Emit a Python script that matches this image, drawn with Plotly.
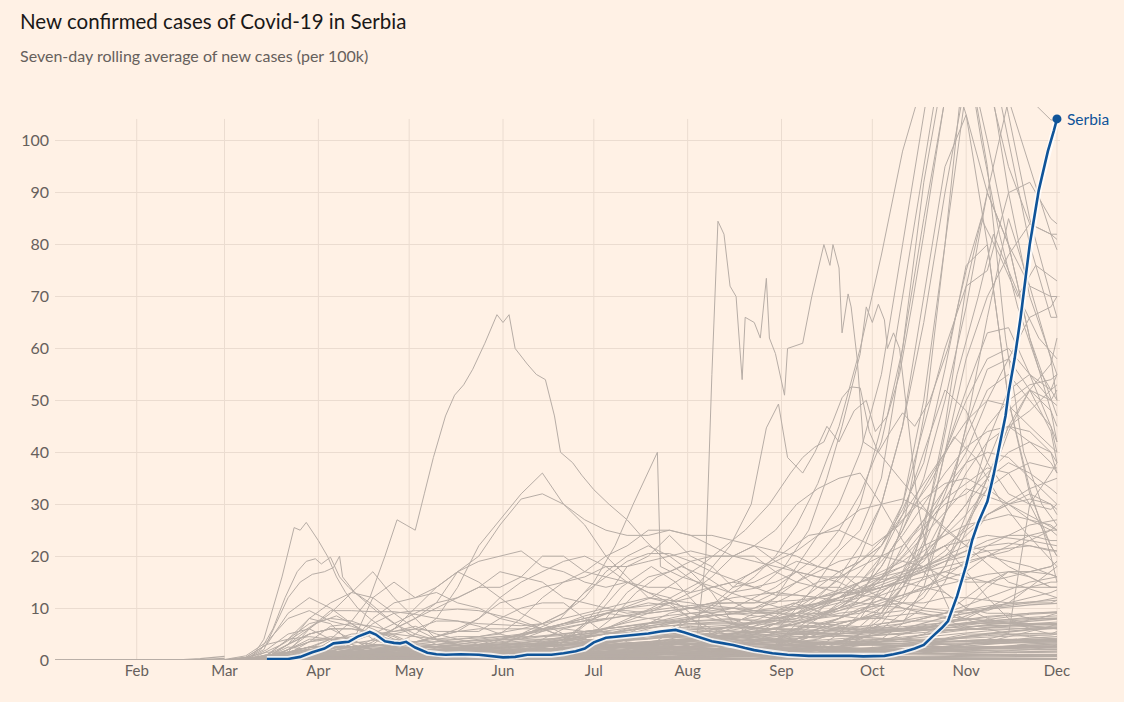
import plotly.graph_objects as go

YEAR = "2020-"
FONT = "Lato"
BG = "#fff1e5"
GRID = "#ebdcd0"
GREY = "#b7ada6"
BLUE = "#0f5499"
TEXT = "#66605c"

# ---------------- axis categories ----------------
month_ticks = ["02-01", "03-01", "04-01", "05-01", "06-01", "07-01", "08-01", "09-01", "10-01", "11-01", "12-01"]
month_labels = ["Feb", "Mar", "Apr", "May", "Jun", "Jul", "Aug", "Sep", "Oct", "Nov", "Dec"]
y_ticks = [0, 10, 20, 30, 40, 50, 60, 70, 80, 90, 100]

week_days = ["03-01", "03-08", "03-15", "03-22", "03-29", "04-05", "04-12", "04-19", "04-26", "05-03",
             "05-10", "05-17", "05-24", "05-31", "06-07", "06-14", "06-21", "06-28", "07-05", "07-12",
             "07-19", "07-26", "08-02", "08-09", "08-16", "08-23", "08-30", "09-06", "09-13", "09-20",
             "09-27", "10-04", "10-11", "10-18", "10-25", "11-01", "11-08", "11-15", "11-22", "11-29", "12-01"]
biweek_days = ["03-01", "03-15", "03-29", "04-12", "04-26", "05-10", "05-24", "06-07", "06-21", "07-05",
               "07-19", "08-02", "08-16", "08-30", "09-13", "09-27", "10-11", "10-25", "11-08", "11-22", "12-01"]
early_days = ["01-05", "01-22", "02-01", "02-15", "02-22", "03-01"]

# ---------------- Serbia ----------------
serbia = [("03-15", 0.2), ("03-18", 0.2), ("03-22", 0.2), ("03-26", 0.6), ("03-30", 1.5), ("04-03", 2.2),
          ("04-06", 3.2), ("04-09", 3.4), ("04-11", 3.5), ("04-14", 4.5), ("04-18", 5.4), ("04-20", 4.9),
          ("04-23", 3.6), ("04-26", 3.3), ("04-28", 3.2), ("04-30", 3.5), ("05-03", 2.4), ("05-07", 1.4),
          ("05-10", 1.1), ("05-13", 1.0), ("05-18", 1.1), ("05-24", 1.0), ("05-28", 0.8), ("06-01", 0.5),
          ("06-05", 0.6), ("06-09", 1.0), ("06-13", 1.0), ("06-17", 1.0), ("06-21", 1.3), ("06-25", 1.7),
          ("06-28", 2.2), ("07-01", 3.4), ("07-05", 4.3), ("07-09", 4.5), ("07-13", 4.7), ("07-19", 5.1),
          ("07-23", 5.5), ("07-28", 5.8), ("07-31", 5.3), ("08-05", 4.3), ("08-09", 3.6), ("08-12", 3.3),
          ("08-16", 2.9), ("08-20", 2.3), ("08-23", 1.9), ("08-29", 1.3), ("09-03", 1.0), ("09-10", 0.8),
          ("09-16", 0.8), ("09-20", 0.9), ("09-24", 0.8), ("09-28", 0.7), ("10-02", 0.7), ("10-05", 0.8),
          ("10-08", 1.1), ("10-11", 1.5), ("10-15", 2.2), ("10-18", 2.9), ("10-21", 4.6), ("10-24", 6.2),
          ("10-26", 7.5), ("10-29", 12.3), ("11-01", 18.2), ("11-03", 23.1), ("11-05", 26.5), ("11-08", 30.5),
          ("11-10", 35.5), ("11-12", 41), ("11-14", 47), ("11-15", 51.4), ("11-17", 58), ("11-19", 66),
          ("11-21", 75), ("11-22", 80), ("11-24", 87), ("11-25", 90.5), ("11-27", 95.5), ("11-28", 98),
          ("11-30", 102), ("12-01", 104.2)]

# ---------------- other countries: irregular dates ----------------
spring_peak_a = [("03-01", 0), ("03-10", 0.5), ("03-14", 4), ("03-17", 10), ("03-20", 16), ("03-24", 25.5),
                 ("03-26", 25), ("03-28", 26.5), ("04-01", 23), ("04-04", 20), ("04-07", 16), ("04-10", 13),
                 ("04-14", 10), ("04-18", 8), ("04-25", 5), ("05-05", 2.5), ("05-20", 1.5), ("06-05", 1.5),
                 ("06-20", 3), ("07-01", 8), ("07-10", 14), ("07-20", 18), ("07-28", 15), ("08-05", 10),
                 ("08-15", 7), ("08-25", 6), ("09-05", 6), ("09-15", 7), ("09-25", 9), ("10-05", 12),
                 ("10-15", 20), ("10-22", 35), ("10-29", 55), ("11-05", 70), ("11-10", 82), ("11-15", 75),
                 ("11-20", 68), ("11-25", 62), ("12-01", 58)]
spring_peak_b = [("03-08", 0.2), ("03-13", 2), ("03-17", 6), ("03-21", 12), ("03-25", 17), ("03-28", 19),
                 ("03-31", 19.5), ("04-02", 18.5), ("04-05", 19.8), ("04-08", 16), ("04-11", 14), ("04-15", 12),
                 ("04-20", 9.5), ("04-26", 7), ("05-03", 5), ("05-12", 3.5), ("05-25", 2), ("06-10", 1),
                 ("06-25", 0.8), ("07-10", 1.2), ("07-25", 2.5), ("08-10", 5), ("08-25", 8), ("09-05", 11),
                 ("09-15", 9), ("09-25", 11), ("10-05", 16), ("10-12", 28), ("10-19", 50), ("10-25", 80),
                 ("10-30", 108), ("11-03", 112), ("11-08", 95), ("11-14", 62), ("11-20", 40), ("11-26", 30),
                 ("12-01", 26)]
spring_peak_c = [("03-08", 0.2), ("03-14", 2), ("03-18", 7), ("03-22", 12), ("03-26", 15), ("03-30", 16.5),
                 ("04-03", 17), ("04-06", 17.8), ("04-08", 20), ("04-09", 16), ("04-13", 13), ("04-18", 11),
                 ("04-24", 8), ("05-01", 5), ("05-10", 3), ("05-20", 1.8), ("06-05", 0.8), ("06-25", 0.6),
                 ("07-10", 1.2), ("07-20", 3), ("07-31", 7), ("08-10", 11), ("08-20", 16), ("08-31", 20),
                 ("09-10", 24), ("09-20", 25), ("10-01", 22), ("10-10", 26), ("10-20", 34), ("10-28", 43),
                 ("11-04", 39), ("11-12", 31), ("11-20", 25), ("12-01", 18)]
june_peak = [("03-01", 0), ("03-12", 0.5), ("03-20", 1), ("03-28", 2), ("04-05", 4), ("04-12", 7.5),
             ("04-18", 12), ("04-23", 20), ("04-27", 27), ("04-30", 26), ("05-03", 25), ("05-06", 32),
             ("05-09", 39), ("05-13", 47), ("05-16", 51), ("05-19", 53), ("05-22", 56), ("05-26", 61),
             ("05-30", 66.5), ("06-01", 65), ("06-03", 66.5), ("06-05", 60), ("06-09", 57), ("06-12", 55),
             ("06-15", 54), ("06-18", 47), ("06-20", 40), ("06-24", 38), ("06-27", 35.6), ("07-01", 32.8),
             ("07-06", 30), ("07-12", 27), ("07-18", 23), ("07-25", 19), ("08-01", 16), ("08-10", 13),
             ("08-20", 10), ("09-01", 8), ("09-15", 7), ("10-01", 8), ("10-15", 9), ("11-01", 8),
             ("11-15", 7), ("12-01", 6)]
august_spike = [("03-10", 0), ("03-25", 0.5), ("04-10", 1), ("05-01", 1.5), ("06-01", 1.5), ("07-01", 2),
                ("07-20", 3), ("08-04", 4), ("08-07", 20), ("08-09", 55), ("08-11", 84.5), ("08-13", 82),
                ("08-15", 72), ("08-17", 70), ("08-19", 54), ("08-20", 66), ("08-23", 65), ("08-25", 62),
                ("08-27", 73.5), ("08-28", 62), ("08-30", 59), ("09-02", 51), ("09-03", 60), ("09-08", 61),
                ("09-11", 70), ("09-15", 80), ("09-17", 76), ("09-18", 80), ("09-20", 75.5), ("09-21", 63),
                ("09-23", 70.5), ("09-24", 68), ("09-26", 58), ("09-28", 42), ("10-03", 40), ("10-10", 35),
                ("10-20", 28), ("11-01", 22), ("11-15", 15), ("12-01", 12)]
autumn_plateau = [("03-10", 0.3), ("03-20", 3), ("03-31", 7), ("04-07", 8.5), ("04-15", 6), ("04-25", 3),
                  ("05-10", 1), ("05-25", 0.3), ("06-05", 0.6), ("06-15", 1.5), ("06-28", 4), ("07-07", 8),
                  ("07-15", 13), ("07-22", 16), ("07-30", 18), ("08-07", 16), ("08-15", 13), ("08-25", 14),
                  ("09-02", 18), ("09-10", 25), ("09-16", 35), ("09-21", 45), ("09-24", 52), ("09-27", 59),
                  ("09-29", 68), ("10-01", 65), ("10-03", 68.5), ("10-05", 65.5), ("10-06", 60), ("10-08", 63),
                  ("10-10", 60), ("10-13", 45), ("10-16", 30), ("10-20", 18), ("10-27", 9), ("11-05", 7),
                  ("11-15", 7), ("11-25", 8), ("12-01", 9)]
september_wave = [("04-01", 0.5), ("05-01", 1), ("06-01", 2), ("07-01", 5), ("07-20", 10), ("08-05", 15),
                  ("08-15", 22), ("08-22", 30), ("08-27", 44.7), ("08-31", 49.3), ("09-03", 39), ("09-08", 36),
                  ("09-12", 40), ("09-16", 45), ("09-20", 42), ("09-25", 48), ("09-29", 50), ("10-02", 44),
                  ("10-06", 47), ("10-10", 55), ("10-14", 68), ("10-18", 82), ("10-22", 97), ("10-26", 112),
                  ("11-01", 118), ("11-06", 100), ("11-12", 82), ("11-18", 68), ("11-25", 56), ("12-01", 50)]
july_spike = [("04-01", 0.3), ("05-01", 1), ("06-01", 3), ("06-20", 8), ("07-01", 15), ("07-08", 22),
              ("07-14", 30), ("07-18", 35), ("07-22", 40), ("07-23", 18), ("07-30", 16), ("08-10", 14),
              ("08-20", 12), ("09-01", 10), ("09-15", 11), ("10-01", 14), ("10-15", 22), ("11-01", 33),
              ("11-15", 30), ("12-01", 25)]
late_september = [("04-01", 0.5), ("05-01", 2), ("06-01", 4), ("07-01", 8), ("07-20", 12), ("08-05", 18),
                  ("08-20", 25), ("08-28", 30), ("09-04", 36), ("09-08", 39), ("09-12", 41), ("09-15", 42),
                  ("09-18", 46), ("09-21", 50.5), ("09-24", 52.6), ("09-27", 52.4), ("09-30", 44), ("10-03", 40),
                  ("10-07", 44), ("10-11", 47.6), ("10-15", 45), ("10-20", 50), ("10-26", 60), ("11-01", 75),
                  ("11-06", 85), ("11-12", 78), ("11-18", 70), ("11-24", 76), ("12-01", 73)]

# ---------------- other countries: weekly values (week_days) ----------------
europe_weekly = [
    [0, 0, 0.3, 1.5, 2.5, 2.8, 2.2, 1.6, 1.0, 0.7, 0.6, 0.5, 0.5, 0.7, 0.9, 1.1, 1.0, 1.6, 1.3, 1.4,
     1.8, 2.5, 2.4, 2.2, 2.6, 3.5, 5.5, 10, 15, 21, 25, 35, 60, 92, 115, 118, 100, 80, 62, 48, 42],
    [0, 0.5, 3, 9, 12, 10, 7, 4, 2.5, 1.5, 0.8, 0.5, 0.3, 0.2, 0.3, 0.3, 0.4, 0.7, 0.9, 1.2,
     1.5, 1.5, 1.6, 2.0, 3.0, 3.5, 4.0, 4.5, 4.2, 5.0, 6.5, 10, 15, 25, 45, 72, 90, 80, 62, 50, 47],
    [0, 0, 1, 3, 5, 6, 6, 5.5, 4.5, 2.5, 1.5, 1.2, 1.0, 0.8, 0.9, 1.0, 0.8, 0.6, 0.6, 0.8,
     1.2, 2.0, 3.0, 3.8, 3.9, 3.6, 4.0, 5.5, 8, 11, 15, 20, 28, 40, 52, 48, 38, 32, 30, 29, 30],
    [0, 0.1, 0.8, 4, 7, 8, 7.5, 6, 4, 2.8, 1.4, 1.0, 0.7, 0.6, 0.8, 0.9, 0.8, 0.9, 0.8, 0.9,
     1.2, 1.5, 2.3, 3.5, 5, 6.5, 8.5, 11, 14, 17, 19, 22, 29, 38, 56, 76, 80, 50, 33, 20, 15],
    [0, 0, 2, 5, 6, 4, 2.5, 1.2, 0.6, 0.4, 0.3, 0.3, 0.4, 0.4, 0.4, 0.5, 0.5, 0.6, 0.8, 1.0,
     1.1, 1.2, 1.2, 1.4, 1.7, 2, 3, 4, 5.5, 7, 8, 8.5, 11, 16, 28, 45, 66, 85, 72, 58, 50],
    [0.1, 0.8, 3.5, 8, 9.5, 7.5, 6.5, 5, 3.8, 2.5, 1.6, 1.2, 0.9, 0.7, 0.5, 0.4, 0.4, 0.3, 0.3, 0.3,
     0.4, 0.4, 0.5, 0.6, 0.9, 1.4, 2, 2.3, 2.3, 2.5, 3, 4, 7, 14, 28, 45, 56, 58, 52, 44, 38],
    [0, 0, 0.3, 1.2, 3.5, 6.5, 7, 6.5, 5.5, 6.5, 5, 4, 3, 2.2, 1.6, 1.4, 1.2, 1.0, 0.9, 0.9,
     1.0, 1.1, 1.2, 1.5, 1.6, 1.8, 2.2, 3.6, 5, 6, 8, 14, 22, 27, 31, 34, 37, 36, 30, 22, 20],
    [0, 0, 0.1, 0.3, 0.7, 1, 0.9, 0.8, 0.8, 0.8, 0.7, 0.7, 0.8, 0.8, 1.0, 1.0, 0.8, 0.8, 0.8, 0.8,
     0.9, 1.2, 1.5, 1.8, 1.8, 1.7, 1.6, 1.5, 2.0, 3.2, 5, 8, 14, 23, 40, 52, 63, 64, 55, 45, 40],
    [0, 0, 0.1, 0.4, 0.6, 0.8, 0.9, 1, 0.8, 0.5, 0.4, 0.3, 0.2, 0.2, 0.1, 0.1, 0.1, 0.1, 0.1, 0.2,
     0.2, 0.2, 0.3, 0.3, 0.7, 1.5, 3, 7, 8, 9, 9.5, 9, 9.5, 12, 18, 28, 42, 52, 55, 50, 52],
    [0, 0, 0.5, 2.5, 2.0, 1.8, 1.3, 0.8, 0.5, 0.2, 0.1, 0.1, 0.1, 0.1, 0.2, 0.5, 1.2, 2.5, 2.2, 1.5,
     1.2, 1.0, 1.2, 1.5, 2.0, 2.5, 2.0, 1.8, 2.5, 3.5, 5, 7, 12, 22, 40, 58, 70, 78, 84, 82, 81],
    [0, 0, 0, 2, 5, 6, 4, 2, 0.8, 0.2, 0, 0, 0, 0, 0.1, 1, 3.5, 7, 12, 18,
     20, 24, 20, 18, 14, 15, 17, 19, 18, 17, 19, 22, 30, 45, 60, 72, 75, 90, 92, 85, 84],
    [0, 0, 0, 0.1, 0.3, 0.4, 0.5, 0.5, 0.5, 0.3, 0.2, 0.1, 0.1, 0.1, 0.1, 0.1, 0.1, 0.1, 0.1, 0.1,
     0.1, 0.1, 0.1, 0.1, 0.1, 0.2, 0.5, 1, 1.5, 2.5, 5, 9, 17, 25, 33, 40, 50, 58, 66, 68, 70],
    [0, 0, 0.2, 0.8, 1.5, 1.7, 1.6, 1.8, 2.5, 3.3, 4.5, 5.5, 8, 12, 15, 17, 19, 20, 18, 15,
     13, 12, 9, 8, 7, 6, 7, 7.5, 8.5, 10, 13, 18, 25, 33, 40, 50, 58, 60, 55, 52, 53],
    [0, 0, 0.3, 1.5, 2.5, 2.5, 2, 1.6, 1.3, 0.9, 0.6, 0.5, 0.6, 0.9, 1.5, 2.5, 4, 7, 9, 10,
     11, 10.5, 8, 6, 4.5, 4, 4.5, 5, 6, 7, 8, 10, 14, 20, 28, 36, 42, 45, 44, 40, 36],
    [0, 0, 0.5, 3, 5, 6, 6, 5, 3.5, 2.5, 2.5, 2.3, 2.5, 2.7, 3.0, 3.2, 3.4, 3.2, 3.0, 2.8,
     2.4, 2.0, 1.8, 1.5, 1.4, 2, 2.5, 4, 6, 7, 8, 9, 14, 22, 32, 43, 52, 55, 50, 45, 42],
    [0, 0.1, 0.8, 1.5, 2.5, 4, 4.5, 5, 5.5, 6, 5.5, 5.5, 5.5, 8, 10, 11, 11, 8, 5, 3.5,
     3, 2.5, 2.5, 2.5, 2.8, 2, 2.5, 2.5, 3, 3.5, 5, 7, 7.5, 10, 15, 25, 35, 45, 48, 52, 55],
    [0, 0.5, 3, 4, 4.5, 4, 3.5, 3, 2.5, 1.5, 1, 0.8, 0.6, 0.5, 0.4, 0.3, 0.4, 0.5, 0.6, 0.6,
     0.8, 1, 1.5, 2, 1.8, 2, 2.5, 3.5, 5, 6.5, 5.5, 6, 7, 8, 9, 12, 15, 17, 17, 18, 19],
    [0, 0, 0.5, 3, 6, 9, 13, 17, 12, 8, 4, 3, 1.5, 1, 0.6, 0.4, 0.3, 0.2, 0.3, 0.4,
     0.5, 0.5, 1.0, 1.5, 1.5, 1.7, 2.5, 3.5, 4, 5.5, 8, 9, 14, 20, 22, 17, 12, 8, 6, 5, 5.5],
    [0, 0, 0.1, 0.5, 1.5, 2.5, 3.2, 3.8, 4.0, 3.5, 3.5, 3.6, 3.8, 3.8, 4.0, 5.5, 7.0, 8.5, 9.5, 9.5,
     9, 9.5, 10, 10.5, 10, 10, 11, 13, 15, 16, 18, 20, 22, 26, 30, 32, 36, 40, 42, 40, 38],
    [0, 0, 0, 0.1, 0.2, 0.5, 1.2, 2.0, 2.8, 3.5, 4.5, 5.5, 6, 6, 6, 6, 6, 5.5, 5.5, 5,
     4.5, 4.5, 4.5, 4.5, 4.8, 5, 5.5, 6, 6.5, 8, 9.5, 11, 12.5, 14, 15.5, 17, 20, 22, 24, 25, 26],
    [0, 0, 0, 0.1, 0.4, 1.5, 3.5, 7, 9, 9.5, 9.5, 9.8, 9.5, 8.5, 7.5, 6, 4.5, 3.5, 2.8, 2.2,
     1.8, 1.6, 1.5, 1.5, 1.5, 1.5, 1.6, 1.6, 1.8, 2.2, 2.8, 3.5, 5, 6, 7, 8.5, 10, 11, 12, 13, 13.5],
    [0, 0, 0.2, 0.5, 0.7, 0.6, 0.5, 0.4, 0.3, 0.2, 0.1, 0.1, 0.1, 0.1, 0.1, 0.2, 0.2, 0.3, 0.3, 0.3,
     0.4, 0.5, 1.0, 1.6, 2.0, 2.2, 2.3, 2.5, 3, 3.5, 3.5, 3.5, 4, 5, 7, 10, 14, 17, 16, 14, 14],
    [0, 0, 0.4, 1.3, 1.7, 1.6, 1.5, 1.3, 1.0, 0.7, 0.5, 0.4, 0.3, 0.3, 0.3, 0.2, 0.2, 0.2, 0.3, 0.3,
     0.3, 0.4, 0.5, 0.7, 0.8, 1.0, 1.0, 1.3, 1.8, 2.5, 4, 6, 9, 13, 18, 26, 35, 45, 52, 57, 62],
    [0, 0, 0.5, 3, 8, 11, 13, 12, 9, 6, 4, 3, 2.2, 1.6, 1.0, 0.8, 0.8, 0.9, 0.9, 1.2,
     2, 4, 5, 5, 4, 3.5, 4, 6, 9, 14, 20, 30, 45, 70, 95, 105, 80, 50, 32, 22, 20],
]
autumn_mid_weekly = [
    [0, 0, 0.2, 0.8, 1.2, 1.5, 1.8, 2.0, 2.2, 2.0, 1.8, 1.6, 1.5, 1.6, 1.8, 2.0, 2.3, 2.6, 3.0, 3.3,
     3.5, 3.8, 4.2, 4.6, 5.0, 5.5, 6.2, 7.0, 8.0, 9.5, 11, 13, 16, 20, 25, 30, 35, 38, 36, 33, 32],
    [0, 0, 0, 0.3, 0.8, 1.2, 1.5, 1.6, 1.4, 1.2, 1.0, 0.9, 0.9, 1.0, 1.2, 1.5, 2.0, 2.6, 3.2, 3.8,
     4.2, 4.6, 4.8, 5.2, 5.8, 6.5, 7.5, 9, 11, 13, 15, 17, 19, 22, 24, 26, 27, 28, 27, 26, 25],
    [0, 0, 0.1, 0.4, 0.9, 1.4, 2.0, 2.6, 3.0, 3.1, 3.0, 2.8, 2.5, 2.3, 2.2, 2.4, 2.8, 3.4, 4.2, 5.0,
     5.6, 6.0, 6.3, 6.5, 6.7, 7.0, 7.8, 9.0, 10.5, 12, 14, 16, 18, 21, 24, 28, 33, 36, 38, 37, 37],
    [0, 0, 0.3, 1.0, 1.8, 2.4, 2.5, 2.3, 1.9, 1.4, 1.0, 0.8, 0.7, 0.7, 0.8, 0.9, 1.1, 1.3, 1.5, 1.7,
     2.0, 2.4, 2.9, 3.5, 4.2, 5.0, 6.0, 7.5, 9.5, 12, 15, 19, 24, 30, 36, 41, 44, 45, 42, 38, 36],
    [0, 0, 0, 0.1, 0.3, 0.6, 1.0, 1.4, 1.8, 2.2, 2.6, 3.0, 3.4, 3.8, 4.2, 4.6, 5.0, 5.5, 6.0, 6.6,
     7.2, 7.8, 8.3, 8.6, 8.8, 9.0, 9.3, 9.8, 10.5, 11.5, 12.5, 14, 15.5, 17, 19, 21, 23, 24, 24, 23, 23],
    [0, 0, 0.1, 0.6, 1.5, 2.2, 2.6, 2.8, 2.6, 2.1, 1.6, 1.2, 0.9, 0.7, 0.6, 0.6, 0.7, 0.9, 1.2, 1.6,
     2.1, 2.8, 3.6, 4.4, 5.2, 6.0, 7.0, 8.5, 10.5, 13, 17, 22, 28, 34, 40, 46, 50, 49, 45, 41, 40],
    [0, 0, 0, 0.1, 0.2, 0.4, 0.6, 0.8, 1.0, 1.2, 1.4, 1.7, 2.0, 2.4, 2.8, 3.3, 3.9, 4.5, 5.2, 5.8,
     6.3, 6.6, 6.8, 6.9, 7.0, 7.2, 7.5, 8.0, 8.7, 9.5, 10.5, 11.5, 12.5, 13.5, 14.5, 15.5, 16.5, 17, 17, 16.5, 16],
    [0, 0, 0.5, 2.0, 3.5, 4.0, 3.6, 3.0, 2.3, 1.6, 1.1, 0.8, 0.6, 0.5, 0.5, 0.6, 0.8, 1.1, 1.5, 2.0,
     2.6, 3.3, 4.0, 4.6, 5.1, 5.6, 6.2, 7.0, 8.2, 10, 12.5, 16, 21, 27, 33, 38, 40, 39, 35, 31, 30],
    [0, 0, 0, 0.2, 0.5, 0.9, 1.3, 1.7, 2.1, 2.5, 2.9, 3.3, 3.7, 4.2, 4.8, 5.5, 6.2, 7.0, 7.8, 8.6,
     9.4, 10, 10.5, 10.8, 11, 11, 11.2, 11.5, 12, 12.8, 13.8, 15, 16.5, 18, 19.5, 21, 22, 22.5, 22, 21, 21],
    [0, 0, 0.2, 0.7, 1.1, 1.2, 1.1, 1.0, 0.9, 0.8, 0.7, 0.7, 0.8, 1.0, 1.3, 1.7, 2.2, 2.8, 3.4, 4.0,
     4.6, 5.0, 5.4, 5.8, 6.3, 7.0, 8.2, 10, 12.5, 15.5, 19, 23, 27, 31, 34, 35, 33, 30, 27, 25, 24],
    [0, 0, 0, 0.1, 0.2, 0.3, 0.4, 0.5, 0.6, 0.8, 1.0, 1.3, 1.7, 2.2, 2.8, 3.5, 4.3, 5.2, 6.2, 7.2,
     8.0, 8.6, 9.0, 9.2, 9.3, 9.4, 9.6, 10, 10.8, 12, 13.5, 15, 17, 19.5, 22, 25, 28, 30, 31, 30, 29],
    [0, 0, 0.1, 0.3, 0.6, 0.8, 0.9, 0.9, 0.8, 0.7, 0.6, 0.5, 0.5, 0.5, 0.6, 0.7, 0.9, 1.2, 1.6, 2.1,
     2.7, 3.3, 3.9, 4.4, 4.8, 5.3, 6.0, 7.0, 8.5, 10.5, 13, 16, 20, 25, 31, 38, 45, 50, 53, 54, 55],
]
americas_weekly = [
    [0, 0, 0.2, 1.5, 6, 9.5, 9.5, 9.3, 9.3, 8.8, 8, 7.5, 7, 6.8, 6.6, 7, 9, 13, 16, 19,
     20.5, 20.5, 19, 17, 15.5, 14, 12.5, 12.5, 12, 13, 13, 14, 15.5, 18, 21, 26, 33, 44, 52, 50, 49],
    [0, 0, 0, 0.1, 0.3, 0.6, 0.9, 1.5, 2.5, 3.5, 4.5, 6, 8, 11, 12, 14, 15, 16, 18, 18,
     19, 20, 21, 20, 20, 19, 18, 17, 14, 14, 12.5, 12, 11, 10, 9.5, 9, 9.5, 11, 14, 17, 18],
    [0, 0, 0.2, 1, 2, 2.5, 2.6, 2.7, 3, 5, 8, 14, 22, 27, 32, 36, 30, 26, 20, 16,
     12, 11, 10, 10, 10, 9, 9, 9, 9, 8.5, 8, 8, 7.5, 7.5, 7.5, 8, 7.5, 7.5, 7, 7, 7],
    [0, 0, 0, 0.2, 1, 2, 3.5, 5, 7, 9, 11, 12, 14, 17, 16, 15, 12, 11, 10, 9,
     9.5, 11, 13, 16, 20, 22, 21, 20, 18, 17, 14, 12, 10, 9, 8, 6, 6, 5, 5, 5, 5],
    [0, 0, 0.1, 2, 3.5, 4.5, 4, 5, 5, 4.5, 4, 4.5, 4.5, 5, 8, 12, 15, 17, 20, 22,
     25, 25, 24, 24, 23, 22, 19, 17, 16, 16, 16, 15.5, 16, 17, 18, 19, 20, 21, 23, 25, 25],
    [0, 0, 0, 0.1, 0.2, 0.2, 0.2, 0.3, 0.3, 0.4, 0.5, 0.7, 0.9, 1.2, 1.7, 2.4, 3.5, 5, 6, 7.5,
     9, 11, 12, 14, 15, 17, 19, 21, 24, 26, 29, 30, 31, 29, 25, 22, 21, 18, 16, 14, 14],
    [0, 0, 0, 0.1, 0.2, 0.3, 0.3, 0.5, 0.7, 0.9, 1.2, 1.4, 1.8, 2.5, 3.3, 4, 6, 7, 8, 13,
     16, 17, 19, 20, 20, 20, 17, 15, 14, 13, 13, 14, 15, 16, 17, 16, 15, 16, 17, 18, 19],
    [0, 0, 0, 0.1, 0.3, 1.5, 2, 3, 3, 3.5, 4, 4, 4.2, 4.5, 4.5, 4.5, 4.7, 5, 5.3, 5,
     5, 5, 4.8, 4.5, 4.5, 4, 3.8, 3.5, 3.4, 3.5, 3.6, 3.5, 3.5, 3.8, 4, 4.3, 4.5, 4.6, 4.7, 4.8, 5],
    [0, 0, 0, 0.1, 0.2, 0.2, 0.2, 0.1, 0.1, 0.1, 0.1, 0.1, 0.2, 0.3, 0.5, 0.8, 1.3, 2, 3.5, 5,
     7, 9, 10, 11, 11, 11, 13, 15, 17, 19, 20, 20, 19, 18, 16, 15, 15, 14, 14, 14, 14],
    [0, 0, 0, 0.1, 0.2, 0.4, 0.5, 0.7, 1, 1.2, 1.6, 2, 2.5, 3, 4.5, 6, 7, 8, 9, 10,
     10.5, 11, 10, 9, 8, 6, 5, 3.5, 2.5, 2, 2, 1.5, 1.3, 1.2, 1.2, 1.3, 1.5, 1.8, 2, 2.5, 3],
    [0, 0, 0, 0.5, 0.6, 0.6, 0.6, 0.6, 0.8, 1, 1.3, 1.8, 2.5, 3.8, 5, 7, 9, 12, 17, 20,
     22, 20, 17, 13, 7, 4.5, 3.5, 2.5, 2.5, 2.2, 2.0, 2.3, 2.8, 3.0, 2.5, 3, 3.5, 4.5, 5.5, 6.5, 7],
]
asia_weekly = [
    [0, 0.5, 1.5, 1.5, 2, 2.5, 3.5, 8, 11, 12, 14, 17, 20, 26, 31, 32, 30, 27, 25, 24,
     24, 25, 24, 22, 20, 22, 25, 30, 33, 35, 36, 30, 23, 17, 13, 10, 9, 9, 8, 8, 8],
    [0, 0, 0.2, 0.7, 0.8, 1, 1.8, 3.5, 6, 8, 11, 17, 19, 20, 21, 18, 17, 15, 14, 15,
     14, 14, 13, 14, 15, 14, 15, 17, 16, 15, 13, 14, 15, 14, 13, 10, 8, 7, 6.5, 6, 6],
    [0, 0, 0, 0.1, 0.5, 1, 2, 4, 6, 8, 10, 12, 14, 14, 16, 20, 20, 17, 16, 15,
     13, 11, 8, 5, 4, 3, 3, 3, 3.5, 3.8, 4, 4, 4, 4, 4.2, 5, 5, 5, 4.5, 4, 4],
    [0, 0, 0.1, 0.3, 1.3, 3, 4.2, 5, 5, 6, 7.5, 7.5, 6.5, 5, 4, 4, 4, 4, 3.5, 3,
     3, 3, 3, 3, 3.2, 3.5, 4, 5, 7, 8, 10, 10.5, 11, 11, 12, 12, 11.5, 11, 11, 11, 11.5],
    [0, 0, 0.1, 0.2, 0.3, 0.3, 0.2, 0.1, 0.1, 0.1, 0.1, 0.1, 0.1, 0.1, 0.1, 0.1, 0.2, 0.3, 0.2, 0.4,
     0.8, 1.5, 3, 4, 5, 6, 7, 8, 10, 12, 15, 16, 17, 18, 20, 22, 28, 30, 32, 30, 28],
    [0, 0, 0, 0.1, 0.1, 0.1, 0.1, 0, 0, 0, 0, 0, 0, 0, 0, 0, 0, 0, 0, 0.1,
     0.1, 0.1, 0.1, 0.1, 0.1, 0.3, 0.8, 1.5, 2.5, 5, 9, 13, 16, 19, 25, 30, 38, 48, 52, 48, 45],
    [0, 0.2, 1, 1.5, 2, 2.7, 2.3, 1.7, 1.2, 1.3, 1.7, 2, 2.4, 3, 3, 3, 3, 3, 3, 3,
     2.9, 3, 2.9, 2.8, 2.6, 2.6, 2.8, 3, 3, 3.5, 4.5, 5, 5, 6, 7.5, 8, 10, 12, 14, 15, 15],
    [0, 0, 0, 0.2, 1.2, 3.7, 5, 5.2, 3.5, 2.5, 1.6, 1.4, 1.3, 1.2, 1.0, 1.4, 1.2, 1.4, 1.5, 1.6,
     1.2, 1.1, 1.1, 1.4, 1.5, 1.7, 2.0, 2.1, 2.0, 2.1, 2.0, 2.0, 2.2, 2.5, 2.5, 3, 4, 5, 30, 36, 38],
    [0, 0.1, 0.3, 0.6, 0.9, 1.5, 3, 12, 15, 12, 13, 11, 10, 8, 7, 6, 4.5, 3.5, 3, 3,
     2.5, 2.3, 2, 1.6, 1.2, 0.8, 0.5, 0.3, 0.2, 0.1, 0.1, 0.1, 0.1, 0.1, 0.1, 0.1, 0.1, 0.1, 0.1, 0.1, 0.1],
    [0, 0, 0, 0.1, 0.2, 0.4, 1, 3, 6, 10, 14, 17, 15, 12, 9, 7, 5, 4, 3.5, 4,
     5, 6, 6.5, 6, 5.5, 5, 4, 3.5, 3, 3, 3.5, 4, 4, 3.5, 3, 2.5, 2.5, 2.5, 2.5, 2.5, 2.5],
]
autumn_high_weekly = [
    [0, 0, 0.5, 2, 4, 4, 3, 2, 1.5, 1, 0.5, 0.3, 0.3, 0.5, 0.8, 1, 1.2, 1.5, 2, 2.5,
     3, 3.5, 4, 5, 7, 9, 12, 18, 24, 30, 40, 55, 80, 105, 130, 140, 115, 90, 70, 58, 55],
    [0, 0, 0.3, 1.5, 2.5, 2.2, 1.8, 1.2, 0.8, 0.5, 0.3, 0.3, 0.5, 1, 2, 3, 4, 5.5, 6, 6.5,
     7, 7.5, 8, 8.5, 9, 10, 12, 15, 18, 22, 30, 45, 70, 95, 120, 130, 125, 105, 85, 70, 66],
    [0, 0, 1, 4, 8, 7, 3, 1, 0.5, 0.3, 0.1, 0, 0, 0, 0.5, 1, 2, 3, 2, 1,
     1, 2, 3, 2, 1.5, 2, 3, 4, 6, 8, 12, 20, 30, 50, 80, 110, 125, 115, 108, 104, 104],
    [0, 0, 0, 0.2, 0.5, 0.8, 1, 1, 1, 1, 1, 1, 1.2, 1.5, 2, 2.5, 3, 3.5, 4, 5,
     6, 7, 8, 9, 10, 12, 14, 17, 20, 25, 32, 42, 60, 85, 108, 125, 112, 95, 84, 82, 82],
    [0, 0, 0.2, 0.8, 1.5, 1.5, 1.2, 0.8, 0.5, 0.3, 0.2, 0.2, 0.2, 0.3, 0.5, 0.8, 1.5, 3, 4, 4.5,
     5, 6, 8, 10, 13, 16, 20, 26, 34, 45, 60, 78, 98, 112, 118, 105, 90, 80, 72, 70, 70],
    [0, 0, 0, 0.1, 0.3, 0.5, 0.5, 0.5, 0.5, 0.5, 0.5, 0.5, 0.5, 0.5, 0.5, 0.6, 0.7, 0.8, 1, 1.2,
     1.5, 2, 2.5, 3, 4, 5, 7, 9, 12, 16, 22, 30, 45, 65, 90, 112, 120, 100, 80, 66, 66],
    [0, 0, 0, 0.1, 0.2, 0.3, 0.4, 0.5, 0.5, 0.5, 0.5, 0.5, 0.5, 0.6, 0.8, 1, 1.5, 2, 2.5, 3,
     3.5, 4, 4, 4.5, 5, 5.5, 6, 7, 8, 10, 13, 18, 25, 35, 50, 68, 90, 108, 95, 82, 79],
]

# ---------------- other countries: fortnightly values (biweek_days) ----------------
mid_fortnightly = [
    [0, 0, 0.5, 1.5, 2.5, 3.5, 4.5, 6, 8, 10, 12, 11, 9, 8, 9, 11, 14, 17, 20, 18, 16],
    [0, 0.2, 1, 2.5, 3, 2.5, 2, 2.5, 3.5, 5, 7, 9, 10, 9, 8, 9, 12, 16, 22, 26, 27],
    [0, 0, 0.3, 1, 2, 3, 4, 5, 7, 9, 8, 7, 7.5, 9, 11, 13, 16, 19, 21, 22, 21],
    [0, 0, 0, 0.3, 0.8, 1.5, 3, 5, 7, 8, 9, 10, 12, 13, 12, 11, 10, 9, 10, 11, 12],
    [0, 0, 0.2, 0.6, 1, 1.5, 2, 2.5, 3.5, 5, 6.5, 8, 9, 10, 12, 15, 18, 22, 24, 23, 22],
    [0, 0.1, 0.5, 1, 1.5, 2, 2, 2.5, 3, 3.5, 4, 5, 6.5, 8, 10, 12, 15, 20, 28, 33, 35],
    [0, 0, 0.1, 0.5, 1.2, 2, 3, 4, 5, 6, 7, 7.5, 8, 7, 6.5, 6, 7, 9, 12, 15, 16],
    [0, 0, 0.3, 1.0, 1.8, 2.5, 3.0, 3.6, 4.3, 5.0, 5.6, 6.0, 6.2, 6.0, 5.7, 5.5, 5.8, 6.5, 7.5, 8.2, 8.5],
    [0, 0.1, 0.6, 1.5, 2.2, 2.6, 2.8, 3.0, 3.4, 4.0, 4.8, 5.4, 5.6, 5.3, 5.0, 5.2, 6.0, 7.2, 8.4, 9.0, 9.2],
    [0, 0, 0.2, 0.6, 1.0, 1.5, 2.0, 2.8, 3.8, 5.0, 6.2, 7.0, 7.2, 6.8, 6.2, 5.8, 5.6, 5.8, 6.2, 6.5, 6.6],
    [0, 0, 0.1, 0.5, 1.2, 2.0, 2.8, 3.4, 3.8, 4.0, 4.1, 4.3, 4.6, 5.0, 5.6, 6.4, 7.6, 9.0, 10.4, 11.2, 11.5],
    [0, 0.2, 0.9, 2.0, 2.6, 2.4, 2.0, 1.8, 1.9, 2.2, 2.6, 3.1, 3.6, 4.0, 4.4, 4.9, 5.6, 6.6, 7.8, 8.8, 9.1],
    [0, 0, 0, 0.3, 0.8, 1.4, 2.2, 3.2, 4.4, 5.6, 6.6, 7.4, 7.8, 7.6, 7.0, 6.4, 6.0, 5.8, 5.9, 6.1, 6.2],
    [0, 0, 0.4, 1.2, 2.0, 2.6, 3.0, 3.2, 3.3, 3.3, 3.2, 3.1, 3.0, 3.0, 3.1, 3.4, 4.0, 4.8, 5.6, 6.2, 6.4],
    [0, 0, 0.1, 0.3, 0.6, 1.0, 1.5, 2.1, 2.8, 3.5, 4.2, 4.8, 5.2, 5.4, 5.6, 5.9, 6.4, 7.2, 8.2, 9.0, 9.3],
    [0, 0, 0.2, 0.6, 1.1, 1.6, 1.9, 2.1, 2.2, 2.3, 2.4, 2.6, 2.9, 3.3, 3.8, 4.4, 5.2, 6.2, 7.2, 7.8, 8.0],
    [0, 0.1, 0.4, 1.1, 1.7, 2.1, 2.3, 2.4, 2.6, 2.9, 3.4, 4.0, 4.6, 5.0, 5.3, 5.6, 6.1, 6.8, 7.5, 8.0, 8.1],
    [0, 0, 0, 0.2, 0.5, 0.9, 1.3, 1.8, 2.4, 3.0, 3.6, 4.1, 4.4, 4.5, 4.5, 4.6, 5.0, 5.6, 6.3, 6.8, 7.0],
    [0, 0, 0.2, 0.7, 1.4, 2.0, 2.4, 2.6, 2.7, 2.7, 2.6, 2.6, 2.7, 2.9, 3.2, 3.7, 4.4, 5.3, 6.3, 7.0, 7.3],
    [0, 0, 0.1, 0.4, 0.8, 1.2, 1.6, 2.0, 2.4, 2.7, 3.0, 3.2, 3.3, 3.3, 3.2, 3.1, 3.1, 3.2, 3.4, 3.5, 3.5],
    [0, 0, 0.1, 0.2, 0.4, 0.7, 1.1, 1.6, 2.2, 2.8, 3.3, 3.6, 3.7, 3.6, 3.4, 3.2, 3.2, 3.4, 3.7, 4.0, 4.1],
    [0, 0.1, 0.3, 0.7, 1.0, 1.2, 1.3, 1.3, 1.4, 1.5, 1.7, 2.0, 2.3, 2.6, 2.9, 3.2, 3.6, 4.1, 4.7, 5.1, 5.2],
]
low_fortnightly = [
    [0, 0.1, 0.5, 0.8, 0.6, 0.5, 0.4, 0.5, 0.7, 0.9, 1.1, 1.2, 1.0, 0.9, 1.1, 1.4, 1.8, 2.6, 3.5, 4.2, 4.5],
    [0, 0, 0.2, 0.4, 0.6, 0.8, 1.1, 1.5, 2.0, 2.4, 2.6, 2.3, 2.0, 1.6, 1.4, 1.3, 1.5, 1.8, 2.2, 2.4, 2.5],
    [0, 0, 0.1, 0.3, 0.5, 0.6, 0.5, 0.4, 0.3, 0.3, 0.4, 0.5, 0.6, 0.8, 1.0, 1.3, 1.2, 1.1, 1.0, 0.9, 0.9],
    [0, 0.1, 0.3, 0.9, 1.2, 1.0, 0.8, 0.7, 0.9, 1.3, 1.8, 2.6, 3.3, 3.0, 2.6, 2.3, 2.1, 2.4, 3.0, 3.6, 3.8],
    [0, 0, 0, 0.1, 0.2, 0.4, 0.7, 1.0, 1.4, 1.6, 1.5, 1.2, 0.9, 0.7, 0.5, 0.4, 0.4, 0.5, 0.6, 0.7, 0.7],
    [0, 0, 0.1, 0.2, 0.2, 0.3, 0.5, 0.9, 1.6, 2.4, 3.1, 3.5, 3.2, 2.8, 2.5, 2.1, 1.9, 1.7, 1.5, 1.6, 1.7],
    [0, 0.2, 0.8, 1.6, 1.4, 0.9, 0.5, 0.3, 0.3, 0.4, 0.6, 0.8, 1.1, 1.6, 2.3, 3.0, 4.1, 5.6, 6.8, 7.5, 7.9],
    [0, 0, 0, 0.1, 0.1, 0.1, 0.2, 0.2, 0.3, 0.3, 0.3, 0.3, 0.3, 0.2, 0.2, 0.2, 0.2, 0.3, 0.3, 0.3, 0.3],
    [0, 0, 0.1, 0.2, 0.4, 0.5, 0.6, 0.8, 1.0, 1.3, 1.7, 2.2, 2.8, 3.6, 4.6, 5.4, 6.0, 6.6, 7.2, 7.0, 6.8],
    [0, 0, 0.1, 0.4, 0.7, 0.9, 1.1, 1.3, 1.6, 2.0, 2.3, 2.1, 1.7, 1.3, 1.1, 1.0, 1.2, 1.6, 2.3, 3.1, 3.3],
    [0, 0, 0, 0.1, 0.2, 0.2, 0.3, 0.4, 0.6, 0.9, 1.3, 1.6, 1.6, 1.5, 1.3, 1.2, 1.2, 1.3, 1.4, 1.4, 1.5],
    [0, 0.1, 0.4, 1.0, 1.5, 1.9, 2.2, 2.6, 3.0, 3.8, 4.5, 5.0, 4.6, 4.0, 3.4, 3.0, 2.7, 2.5, 2.5, 2.6, 2.7],
    [0, 0, 0, 0, 0.1, 0.1, 0.1, 0.1, 0.1, 0.2, 0.2, 0.2, 0.2, 0.1, 0.1, 0.1, 0.1, 0.2, 0.2, 0.2, 0.2],
    [0, 0, 0.2, 0.5, 0.8, 1.0, 1.3, 1.6, 1.9, 2.2, 2.9, 3.6, 4.3, 4.8, 5.0, 5.2, 5.6, 6.2, 6.6, 6.8, 6.9],
    [0, 0, 0, 0.1, 0.3, 0.6, 0.9, 1.4, 2.0, 2.6, 3.1, 3.0, 2.6, 2.1, 1.8, 1.6, 1.6, 1.9, 2.4, 2.9, 3.1],
    [0, 0, 0.1, 0.3, 0.3, 0.2, 0.1, 0.1, 0.1, 0.2, 0.3, 0.5, 0.7, 1.0, 1.4, 2.0, 2.8, 3.5, 3.9, 4.0, 4.0],
    [0, 0.1, 0.3, 0.6, 0.8, 0.9, 1.0, 0.9, 0.8, 0.7, 0.6, 0.7, 0.8, 1.0, 1.3, 1.8, 2.6, 3.8, 5.0, 5.8, 6.1],
    [0, 0, 0, 0.1, 0.1, 0.2, 0.3, 0.4, 0.5, 0.5, 0.4, 0.4, 0.3, 0.3, 0.3, 0.4, 0.5, 0.6, 0.8, 0.9, 1.0],
    [0, 0, 0.3, 0.8, 1.1, 1.2, 1.1, 1.4, 2.1, 3.2, 4.6, 5.8, 6.4, 6.0, 5.2, 4.4, 3.9, 3.6, 3.5, 3.7, 3.8],
    [0, 0, 0, 0.1, 0.2, 0.4, 0.6, 0.6, 0.5, 0.4, 0.4, 0.5, 0.7, 1.0, 1.5, 2.2, 3.0, 3.6, 3.9, 3.7, 3.6],
    [0, 0, 0, 0, 0, 0, 0, 0.1, 0.1, 0.1, 0.2, 0.2, 0.1, 0.1, 0.1, 0.1, 0.1, 0.1, 0.2, 0.2, 0.2],
    [0, 0, 0.1, 0.2, 0.5, 1.0, 1.6, 2.0, 2.3, 2.6, 3.2, 3.8, 4.1, 3.7, 3.2, 2.9, 2.8, 3.0, 3.3, 3.4, 3.5],
    [0, 0.1, 0.4, 0.7, 0.6, 0.4, 0.3, 0.2, 0.2, 0.3, 0.5, 0.8, 1.3, 2.0, 2.9, 4.2, 6.0, 8.2, 9.8, 10.6, 10.9],
    [0, 0, 0, 0.2, 0.4, 0.5, 0.4, 0.3, 0.2, 0.3, 0.5, 0.9, 1.4, 2.0, 2.5, 2.8, 3.2, 4.0, 5.1, 5.9, 6.2],
    [0, 0, 0, 0, 0.1, 0.1, 0.2, 0.3, 0.5, 0.8, 1.0, 1.1, 1.0, 0.9, 0.8, 0.7, 0.7, 0.8, 1.0, 1.1, 1.1],
    [0, 0, 0.1, 0.3, 0.5, 0.7, 0.9, 1.2, 1.5, 1.8, 2.0, 2.1, 2.0, 1.9, 1.8, 1.8, 2.0, 2.3, 2.6, 2.8, 2.9],
    [0, 0, 0, 0.1, 0.3, 0.5, 0.8, 1.1, 1.3, 1.4, 1.4, 1.3, 1.2, 1.2, 1.3, 1.5, 1.8, 2.2, 2.5, 2.6, 2.6],
    [0, 0, 0.1, 0.2, 0.3, 0.3, 0.4, 0.6, 0.8, 1.0, 1.2, 1.5, 1.7, 1.8, 1.8, 1.7, 1.6, 1.7, 1.9, 2.0, 2.0],
    [0, 0, 0, 0.1, 0.2, 0.4, 0.6, 0.7, 0.7, 0.6, 0.6, 0.7, 0.9, 1.1, 1.2, 1.3, 1.5, 1.9, 2.3, 2.5, 2.6],
    [0, 0, 0.2, 0.4, 0.5, 0.5, 0.5, 0.6, 0.8, 1.1, 1.5, 1.9, 2.2, 2.3, 2.2, 2.0, 1.9, 2.0, 2.2, 2.3, 2.3],
]

# ---------------- early period (Jan–Feb) ----------------
early_series = [
    [0, 0, 0, 0, 0, 0],
    [0, 0, 0.02, 0.05, 0.25, 0.7],
    [0, 0, 0, 0.05, 0.1, 0.3],
    [0, 0.05, 0.15, 0.15, 0.08, 0.03],
]

# =====================================================================
fig = go.Figure()


def grey_line(days, values, width=1.0):
    assert len(days) == len(values), (len(days), len(values))
    fig.add_trace(go.Scatter(
        x=[YEAR + d for d in days], y=values, mode="lines",
        line=dict(color=GREY, width=width), hoverinfo="skip", showlegend=False))


for s in early_series:
    grey_line(early_days, s, 1.2)
for s in low_fortnightly:
    grey_line(biweek_days, s, 1.3)
for s in mid_fortnightly:
    grey_line(biweek_days, s)
for s in europe_weekly + autumn_mid_weekly + americas_weekly + asia_weekly + autumn_high_weekly:
    grey_line(week_days, s)
for s in [spring_peak_a, spring_peak_b, spring_peak_c, june_peak, august_spike, autumn_plateau,
          september_wave, july_spike, late_september]:
    grey_line([d for d, _ in s], [v for _, v in s])

serbia_x = [YEAR + d for d, _ in serbia]
serbia_y = [v for _, v in serbia]

fig.add_trace(go.Scatter(x=serbia_x, y=serbia_y, mode="lines",
                         line=dict(color="rgba(255,255,255,0.8)", width=6),
                         hoverinfo="skip", showlegend=False))
fig.add_trace(go.Scatter(x=serbia_x, y=serbia_y, mode="lines",
                         line=dict(color=BLUE, width=2.6),
                         name="Serbia", showlegend=False))
fig.add_trace(go.Scatter(x=[serbia_x[-1]], y=[serbia_y[-1]], mode="markers",
                         marker=dict(color=BLUE, size=9), cliponaxis=False,
                         hoverinfo="skip", showlegend=False))

# vertical month gridlines (stop just above the top tick)
for m in month_ticks:
    fig.add_shape(type="line", xref="x", yref="y", x0=YEAR + m, x1=YEAR + m, y0=0, y1=104.2,
                  line=dict(color=GRID, width=1), layer="below")

fig.add_annotation(x=serbia_x[-1], y=serbia_y[-1], text="Serbia", showarrow=False,
                   xanchor="left", yanchor="middle", xshift=8,
                   font=dict(family=FONT, size=15.5, color=BLUE))

PLOT_H = 702 - 107 - 42
PLOT_W = 1124 - 55 - 64
fig.add_annotation(xref="paper", yref="paper", x=(18 - 55) / PLOT_W, y=1 + (107 - 21) / PLOT_H,
                   text="New confirmed cases of Covid-19 in Serbia", showarrow=False,
                   xanchor="left", yanchor="middle", font=dict(family=FONT, size=20.5, color="#1a1817"))
fig.add_annotation(xref="paper", yref="paper", x=(18 - 55) / PLOT_W, y=1 + (107 - 55) / PLOT_H,
                   text="Seven-day rolling average of new cases (per 100k)", showarrow=False,
                   xanchor="left", yanchor="middle", font=dict(family=FONT, size=16, color=TEXT))

fig.update_layout(
    width=1124, height=702,
    margin=dict(l=55, r=64, t=107, b=42),
    paper_bgcolor=BG, plot_bgcolor=BG,
    showlegend=False,
    hovermode="closest",
    xaxis=dict(type="date", range=["2020-01-05", "2020-12-02"],
               tickvals=[YEAR + m for m in month_ticks], ticktext=month_labels,
               showgrid=False, zeroline=False, showline=False, ticks="",
               tickfont=dict(family=FONT, size=15, color=TEXT)),
    yaxis=dict(range=[0, 106.5], tickvals=y_ticks, showgrid=True, gridcolor=GRID, gridwidth=1,
               zeroline=False, showline=False, ticks="", ticklabelstandoff=5,
               tickfont=dict(family=FONT, size=16, color=TEXT)),
)

fig.write_html("out.html", config={"displayModeBar": False},
               post_script="document.body.style.margin='0px';")
